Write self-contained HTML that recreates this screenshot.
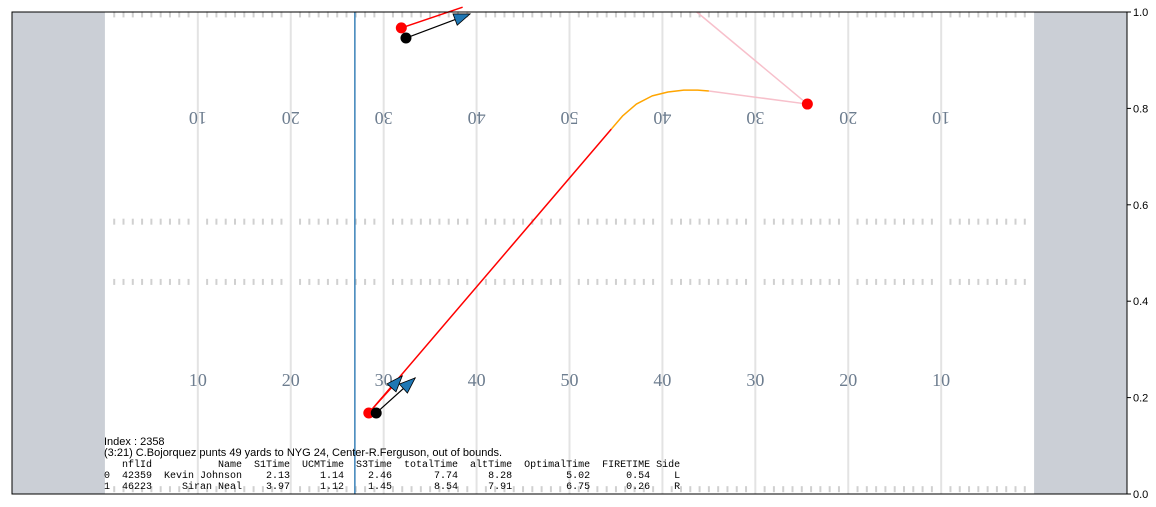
<!DOCTYPE html>
<html><head><meta charset="utf-8"><style>
body{margin:0;background:#fff;width:1156px;height:507px;overflow:hidden;font-family:"Liberation Sans",sans-serif}
svg{position:absolute;left:0;top:0}
</style></head><body>
<svg id="chart" width="1156" height="507" xmlns="http://www.w3.org/2000/svg"></svg>
<script>
// data (x in yards 0-120, y in axis fraction 0-1)
const yardLabels=[10,20,30,40,50,40,30,20,10];
const yardLabelX=[20,30,40,50,60,70,80,90,100];
const yardLabelBottomY=0.237;
const yardLabelTopY=0.78;
const yTicks=[0.0,0.2,0.4,0.6,0.8,1.0];
const hashY=[0.995,0.565,0.44,0.01];
const losYard=36.9;
const returnerPathX=[85.6,75.0,73.8,72.3,70.6,68.9,67.2,65.7,64.5,38.4];
const returnerPathY=[0.809,0.836,0.838,0.838,0.834,0.826,0.809,0.784,0.757,0.168];
const pinkUpX=[85.6,73.7];
const pinkUpY=[0.809,1.0];
const gunnerTopX=[41.9,48.5];const gunnerTopY=[0.967,1.01];
const blockerTopX=[42.4,49.3];const blockerTopY=[0.946,0.996];
const blockerBotX=[39.2,43.4];const blockerBotY=[0.168,0.241];
const arrowRedX=[38.4,42.0];const arrowRedY=[0.168,0.245];
const redDotsX=[41.9,38.4];const redDotsY=[0.967,0.168];
const blackDotsX=[42.4,39.2];const blackDotsY=[0.946,0.168];
const pinkDotX=[85.6];const pinkDotY=[0.809];

const X0=12,X1=1127,Y0=12,Y1=494;
const sx=v=>X0+v*(X1-X0)/120;
const sy=v=>Y1-v*(Y1-Y0);
const svg=document.getElementById('chart');
const NS='http://www.w3.org/2000/svg';
function mk(t,a,p){const e=document.createElementNS(NS,t);for(const k in a)e.setAttribute(k,a[k]);(p||svg).appendChild(e);return e;}

let e;
e=mk('rect',{x:X0,y:Y0,width:X1-X0,height:Y1-Y0,fill:'#fff'});


e=mk('rect',{x:X0,y:Y0,width:sx(10)-X0,height:Y1-Y0,fill:'#cbcfd6'});


e=mk('rect',{x:sx(110),y:Y0,width:X1-sx(110),height:Y1-Y0,fill:'#cbcfd6'});


for(let yd=20;yd<=100;yd+=10){
 e=mk('line',{x1:sx(yd),x2:sx(yd),y1:Y0,y2:Y1,stroke:'#e3e3e3','stroke-width':2});
 
 
}
for(const hy of hashY){
 for(let yd=11;yd<110;yd++){
  if(yd%10===0)continue;
  e=mk('line',{x1:sx(yd),x2:sx(yd),y1:sy(hy)-3,y2:sy(hy)+3,stroke:'#d0d0d0','stroke-width':2});
  
  
 }
}
yardLabels.forEach((l,i)=>{
 e=mk('text',{x:sx(yardLabelX[i]),y:sy(yardLabelBottomY)+6,'text-anchor':'middle','font-family':'Liberation Serif, serif','font-size':18,fill:'#6d7d8f'});
 e.textContent=l;
 
 
 const cx=sx(yardLabelX[i]),cy=sy(yardLabelTopY);
 e=mk('text',{x:cx,y:cy+6,'text-anchor':'middle','font-family':'Liberation Serif, serif','font-size':18,fill:'#6d7d8f',transform:`rotate(180 ${cx} ${cy})`});
 e.textContent=l;
 
 
});
e=mk('line',{x1:sx(losYard),x2:sx(losYard),y1:Y0,y2:Y1,stroke:'#3b82b8','stroke-width':1.5});



function path(xs,ys,col,w,name){
 const d=xs.map((x,i)=>(i?'L':'M')+sx(x)+','+sy(ys[i])).join(' ');
 const p=mk('path',{d:d,fill:'none',stroke:col,'stroke-width':w,'stroke-linejoin':'round'});
 
 
 return p;
}
path(pinkUpX,pinkUpY,'#f7c0cb',1.5,'pink-path-up');
path(returnerPathX.slice(0,2),returnerPathY.slice(0,2),'#f7c0cb',1.5,'returner-path-pink');
path(returnerPathX.slice(1,9),returnerPathY.slice(1,9),'orange',1.5,'returner-path-orange');
path(returnerPathX.slice(8),returnerPathY.slice(8),'red',1.5,'returner-path-red');
path(gunnerTopX,gunnerTopY,'red',1.5,'gunner-top-path');

function arrow(xs,ys,col,name){
 path(xs,ys,col,1.2,name);
 const x2=sx(xs[1]),y2=sy(ys[1]),x1=sx(xs[0]),y1=sy(ys[0]);
 const a=Math.atan2(y2-y1,x2-x1),L=16,W=6;
 const bx=x2-L*Math.cos(a),by=y2-L*Math.sin(a);
 const pts=[[x2,y2],[bx+W*Math.sin(a),by-W*Math.cos(a)],[bx-W*Math.sin(a),by+W*Math.cos(a)]];
 const p=mk('polygon',{points:pts.map(q=>q.join(',')).join(' '),fill:'#1f77b4',stroke:'#000','stroke-width':0.8});
 
 
}
arrow(blockerTopX,blockerTopY,'#000','blocker-top-arrow');
arrow(arrowRedX,arrowRedY,'red','returner-arrow');
arrow(blockerBotX,blockerBotY,'#000','blocker-bottom-arrow');

redDotsX.forEach((x,i)=>{e=mk('circle',{cx:sx(x),cy:sy(redDotsY[i]),r:5.5,fill:'red'});
 
 });
blackDotsX.forEach((x,i)=>{e=mk('circle',{cx:sx(x),cy:sy(blackDotsY[i]),r:5.5,fill:'#000'});
 
 });
pinkDotX.forEach((x,i)=>{e=mk('circle',{cx:sx(x),cy:sy(pinkDotY[i]),r:5.5,fill:'red'});
 
 });

// info text
const lines=[
 ['Index : 2358','sans'],
 ['(3:21) C.Bojorquez punts 49 yards to NYG 24, Center-R.Ferguson, out of bounds.','sans'],
 ['   nflId           Name  S1Time  UCMTime  S3Time  totalTime  altTime  OptimalTime  FIRETIME Side','mono'],
 ['0  42359  Kevin Johnson    2.13     1.14    2.46       7.74     8.28         5.02      0.54    L','mono'],
 ['1  46223     Siran Neal    3.97     1.12    1.45       8.54     7.91         6.75      0.26    R','mono']];
lines.forEach((l,i)=>{
 e=mk('text',{x:104,y:445+i*11,'font-size':l[1]==='mono'?10:11,'font-family':l[1]==='mono'?'Liberation Mono, monospace':'Liberation Sans, sans-serif',fill:'#000','xml:space':'preserve'});
 e.style.whiteSpace='pre';
 e.textContent=l[0];
 
 
});

e=mk('rect',{x:X0,y:Y0,width:X1-X0,height:Y1-Y0,fill:'none',stroke:'#000','stroke-width':1});


yTicks.forEach(t=>{
 e=mk('line',{x1:X1,x2:X1+4,y1:sy(t),y2:sy(t),stroke:'#000'});
 
 
 e=mk('text',{x:X1+6,y:sy(t)+4,'font-size':11,fill:'#000'});
 e.textContent=t.toFixed(1);
 
 
});
</script>
</body></html>
